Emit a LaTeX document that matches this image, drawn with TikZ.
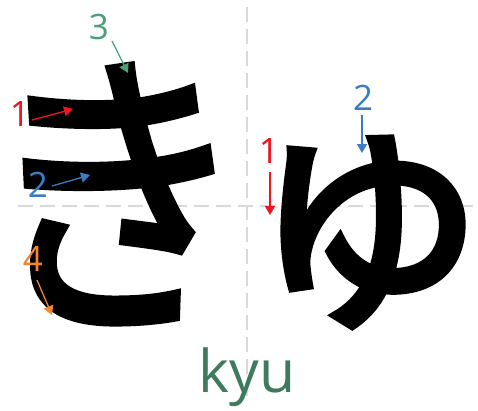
\documentclass[tikz,border=0pt]{standalone}
\usepackage{fontspec}
\setmainfont{Open Sans}
\newfontfamily\jpfont[FakeBold=2.6]{Noto Sans CJK JP}
\usetikzlibrary{arrows.meta}
\definecolor{strokered}{HTML}{F0141E}
\definecolor{strokeblue}{HTML}{3B7DC4}
\definecolor{strokegreen}{HTML}{4A9E7A}
\definecolor{strokeorange}{HTML}{F2872E}
\definecolor{romajigreen}{HTML}{3F7A5F}
\definecolor{guidegray}{HTML}{D8DADA}
\tikzstyle{guide} = [guidegray, line width=2.5pt, dash pattern=on 15pt off 7pt]
\tikzstyle{kana} = [inner sep=0pt, anchor=base, text=black]
\tikzstyle{num} = [inner sep=0pt, font=\fontsize{35}{35}\selectfont]
\tikzstyle{arrow} = [line width=1.3pt, -{Triangle[length=9pt,width=10pt]}]

\begin{document}
\begin{tikzpicture}[x=1pt,y=-1pt]
\useasboundingbox (0,0) rectangle (478,410);

% Guides
\coordinate (hl) at (18,206);
\coordinate (hr) at (478,206);
\coordinate (vt) at (247,7);
\coordinate (vb) at (247,403);
\draw [guide] (hl) -- (hr);
\draw [guide] (vt) -- (vb);

% Kana
\node (ki) [kana, font=\jpfont\fontsize{304}{304}\selectfont] at (116,308) {\scalebox{0.87}[1]{き}};
\node (yu) [kana, font=\jpfont\fontsize{270}{270}\selectfont] at (366,304) {ゅ};

% Numbers
\node (ki1) [num, text=strokered] at (20,114) {1};
\node (ki2) [num, text=strokeblue] at (38,185) {2};
\node (ki3) [num, text=strokegreen] at (99,27) {3};
\node (ki4) [num, text=strokeorange] at (33,259) {4};
\node (yu1) [num, text=strokered] at (269,151) {1};
\node (yu2) [num, text=strokeblue] at (363,98) {2};

% Arrow ends
\coordinate (ki1s) at (32,120);
\coordinate (ki1e) at (73,109);
\coordinate (ki2s) at (52,186);
\coordinate (ki2e) at (90,175);
\coordinate (ki3s) at (112,41);
\coordinate (ki3e) at (128,73);
\coordinate (ki4s) at (37,280);
\coordinate (ki4e) at (52,315);
\coordinate (yu1s) at (270,172);
\coordinate (yu1e) at (270,215);
\coordinate (yu2s) at (362,115);
\coordinate (yu2e) at (362,153);

% Arrows
\draw [arrow, strokered] (ki1s) -- (ki1e);
\draw [arrow, strokeblue] (ki2s) -- (ki2e);
\draw [arrow, strokegreen] (ki3s) -- (ki3e);
\draw [arrow, strokeorange] (ki4s) -- (ki4e);
\draw [arrow, strokered] (yu1s) -- (yu1e);
\draw [arrow, strokeblue] (yu2s) -- (yu2e);

% Romaji
\node (romaji) [inner sep=0pt, anchor=base, text=romajigreen, font=\fontsize{59}{59}\selectfont] at (247,392) {kyu};

\end{tikzpicture}
\end{document}
